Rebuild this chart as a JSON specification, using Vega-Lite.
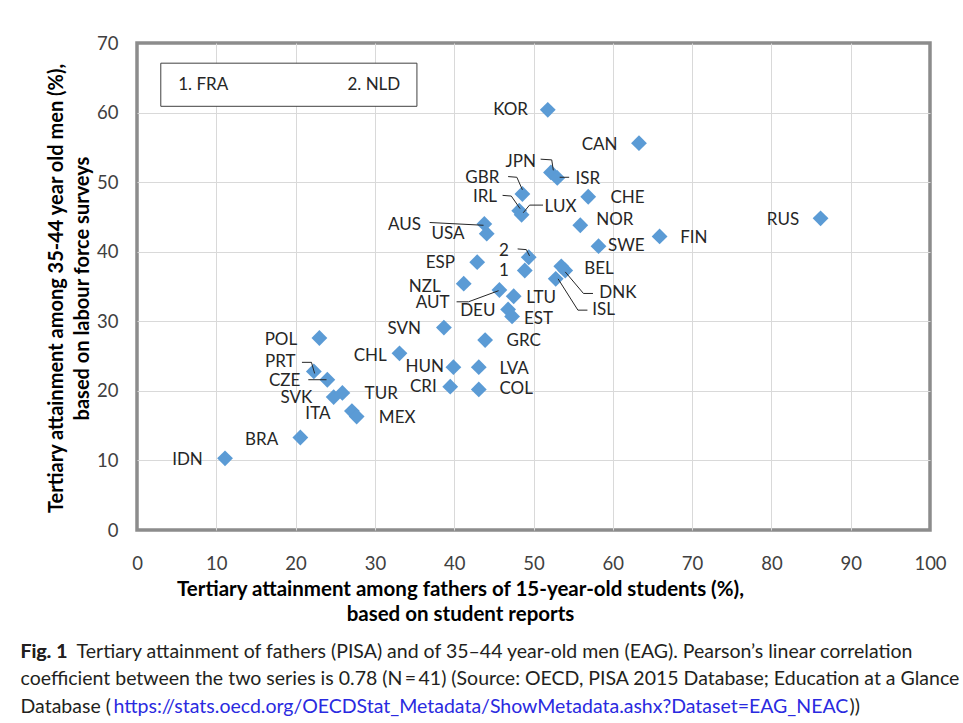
{
  "$schema": "https://vega.github.io/schema/vega-lite/v6.json",
  "width": 793,
  "height": 487,
  "autosize": "none",
  "padding": {"left": 137, "top": 43, "right": 33, "bottom": 193},
  "background": "white",
  "config": {
    "view": {"stroke": "#8c8c8c", "strokeWidth": 3.5},
    "font": "Lato"
  },
  "resolve": {"axis": {"x": "independent", "y": "independent"}},
  "datasets": {
    "pts": [
      {"c": "KOR", "x": 51.8, "y": 60.4, "lx": 49.3, "ly": 60.4, "side": "L"},
      {"c": "CAN", "x": 63.3, "y": 55.6, "lx": 60.6, "ly": 55.4, "side": "L"},
      {"c": "JPN", "x": 52.2, "y": 51.4, "lx": 50.3, "ly": 52.9, "side": "L"},
      {"c": "ISR", "x": 53.0, "y": 50.6, "lx": 55.3, "ly": 50.5, "side": "R"},
      {"c": "GBR", "x": 48.6, "y": 48.3, "lx": 45.7, "ly": 50.6, "side": "L"},
      {"c": "CHE", "x": 56.9, "y": 47.9, "lx": 59.7, "ly": 47.7, "side": "R"},
      {"c": "IRL", "x": 48.2, "y": 45.9, "lx": 45.4, "ly": 47.8, "side": "L"},
      {"c": "LUX", "x": 48.5, "y": 45.3, "lx": 51.4, "ly": 46.4, "side": "R"},
      {"c": "NOR", "x": 55.9, "y": 43.8, "lx": 57.9, "ly": 44.5, "side": "R"},
      {"c": "FIN", "x": 65.9, "y": 42.2, "lx": 68.5, "ly": 42.0, "side": "R"},
      {"c": "SWE", "x": 58.2, "y": 40.8, "lx": 59.4, "ly": 40.8, "side": "R"},
      {"c": "AUS", "x": 43.8, "y": 44.0, "lx": 35.8, "ly": 43.8, "side": "L"},
      {"c": "USA", "x": 44.1, "y": 42.6, "lx": 41.3, "ly": 42.5, "side": "L"},
      {"c": "2", "x": 49.4, "y": 39.2, "lx": 46.9, "ly": 40.1, "side": "L"},
      {"c": "1", "x": 48.9, "y": 37.3, "lx": 46.9, "ly": 37.2, "side": "L"},
      {"c": "ESP", "x": 42.9, "y": 38.5, "lx": 40.1, "ly": 38.4, "side": "L"},
      {"c": "BEL", "x": 53.5, "y": 37.9, "lx": 56.4, "ly": 37.5, "side": "R"},
      {"c": "DNK", "x": 54.0, "y": 37.3, "lx": 58.3, "ly": 34.0, "side": "R"},
      {"c": "ISL", "x": 52.8, "y": 36.1, "lx": 57.4, "ly": 31.6, "side": "R"},
      {"c": "NZL", "x": 41.2, "y": 35.4, "lx": 38.3, "ly": 35.0, "side": "L"},
      {"c": "AUT", "x": 45.7, "y": 34.5, "lx": 39.4, "ly": 32.6, "side": "L"},
      {"c": "LTU", "x": 47.5, "y": 33.6, "lx": 49.1, "ly": 33.4, "side": "R"},
      {"c": "DEU", "x": 46.8, "y": 31.7, "lx": 45.2, "ly": 31.5, "side": "L"},
      {"c": "EST", "x": 47.3, "y": 30.7, "lx": 48.8, "ly": 30.4, "side": "R"},
      {"c": "SVN", "x": 38.7, "y": 29.1, "lx": 35.8, "ly": 28.9, "side": "L"},
      {"c": "GRC", "x": 43.9, "y": 27.3, "lx": 46.6, "ly": 27.2, "side": "R"},
      {"c": "RUS", "x": 86.2, "y": 44.8, "lx": 83.5, "ly": 44.6, "side": "L"},
      {"c": "POL", "x": 23.0, "y": 27.6, "lx": 20.2, "ly": 27.3, "side": "L"},
      {"c": "CHL", "x": 33.1, "y": 25.4, "lx": 31.5, "ly": 25.0, "side": "L"},
      {"c": "HUN", "x": 39.9, "y": 23.4, "lx": 38.7, "ly": 23.5, "side": "L"},
      {"c": "LVA", "x": 43.1, "y": 23.4, "lx": 45.7, "ly": 23.1, "side": "R"},
      {"c": "CRI", "x": 39.5, "y": 20.6, "lx": 37.8, "ly": 20.6, "side": "L"},
      {"c": "COL", "x": 43.1, "y": 20.2, "lx": 45.7, "ly": 20.2, "side": "R"},
      {"c": "PRT", "x": 22.3, "y": 22.8, "lx": 20.0, "ly": 24.1, "side": "L"},
      {"c": "CZE", "x": 24.0, "y": 21.6, "lx": 20.6, "ly": 21.4, "side": "L"},
      {"c": "SVK", "x": 24.8, "y": 19.1, "lx": 22.1, "ly": 19.0, "side": "L"},
      {"c": "TUR", "x": 25.9, "y": 19.7, "lx": 28.7, "ly": 19.6, "side": "R"},
      {"c": "ITA", "x": 27.1, "y": 17.1, "lx": 24.4, "ly": 16.7, "side": "L"},
      {"c": "MEX", "x": 27.7, "y": 16.3, "lx": 30.5, "ly": 16.1, "side": "R"},
      {"c": "BRA", "x": 20.6, "y": 13.3, "lx": 17.8, "ly": 13.0, "side": "L"},
      {"c": "IDN", "x": 11.1, "y": 10.3, "lx": 8.3, "ly": 10.1, "side": "L"}
    ],
    "leaders": [
      {"c": "JPN", "o": 1, "x": 50.9, "y": 53.3},
      {"c": "JPN", "o": 2, "x": 52.3, "y": 53.2},
      {"c": "JPN", "o": 3, "x": 52.5, "y": 51.7},
      {"c": "ISR", "o": 1, "x": 54.5, "y": 50.7},
      {"c": "ISR", "o": 2, "x": 53.3, "y": 50.7},
      {"c": "GBR", "o": 1, "x": 46.8, "y": 50.8},
      {"c": "GBR", "o": 2, "x": 47.9, "y": 50.7},
      {"c": "GBR", "o": 3, "x": 48.6, "y": 48.9},
      {"c": "IRL", "o": 1, "x": 46.1, "y": 48.1},
      {"c": "IRL", "o": 2, "x": 47.2, "y": 48.0},
      {"c": "IRL", "o": 3, "x": 48.3, "y": 46.2},
      {"c": "LUX", "o": 1, "x": 51.2, "y": 46.7},
      {"c": "LUX", "o": 2, "x": 49.5, "y": 46.7},
      {"c": "LUX", "o": 3, "x": 48.7, "y": 45.6},
      {"c": "AUS", "o": 1, "x": 36.9, "y": 44.2},
      {"c": "AUS", "o": 2, "x": 43.7, "y": 43.8},
      {"c": "2", "o": 1, "x": 48.0, "y": 40.4},
      {"c": "2", "o": 2, "x": 49.1, "y": 40.3},
      {"c": "2", "o": 3, "x": 49.5, "y": 39.4},
      {"c": "DNK", "o": 1, "x": 57.5, "y": 34.0},
      {"c": "DNK", "o": 2, "x": 56.3, "y": 34.0},
      {"c": "DNK", "o": 3, "x": 54.0, "y": 37.1},
      {"c": "ISL", "o": 1, "x": 56.8, "y": 31.6},
      {"c": "ISL", "o": 2, "x": 55.6, "y": 31.6},
      {"c": "ISL", "o": 3, "x": 53.1, "y": 36.1},
      {"c": "AUT", "o": 1, "x": 40.3, "y": 32.8},
      {"c": "AUT", "o": 2, "x": 41.8, "y": 32.8},
      {"c": "AUT", "o": 3, "x": 45.6, "y": 34.4},
      {"c": "PRT", "o": 1, "x": 20.8, "y": 24.1},
      {"c": "PRT", "o": 2, "x": 22.0, "y": 24.1},
      {"c": "PRT", "o": 3, "x": 22.4, "y": 22.5},
      {"c": "CZE", "o": 1, "x": 21.6, "y": 21.6},
      {"c": "CZE", "o": 2, "x": 23.9, "y": 21.6}
    ],
    "legendbox": [
      {"x1": 3.0, "x2": 35.3, "y1": 60.9, "y2": 67.1}
    ],
    "legendtext": [
      {"t": "1. FRA", "x": 5.2, "y": 63.9, "a": "start"},
      {"t": "2. NLD", "x": 33.2, "y": 63.9, "a": "end"}
    ]
  },
  "layer": [
    {
      "data": {"name": "pts"},
      "mark": {"type": "point", "shape": "diamond", "filled": true, "size": 250, "opacity": 1, "color": "#5b9bd5", "strokeWidth": 0},
      "encoding": {
        "x": {
          "field": "x", "type": "quantitative",
          "scale": {"domain": [0, 100], "nice": false},
          "axis": {
            "orient": "bottom",
            "values": [0, 10, 20, 30, 40, 50, 60, 70, 80, 90, 100],
            "domain": false, "ticks": false, "tickSize": 0, "labelFlush": false,
            "grid": true, "gridColor": "#d9d9d9", "gridWidth": 1,
            "gridOpacity": {"condition": {"test": "datum.value === 0 || datum.value === 100", "value": 0}, "value": 1},
            "labelFont": "Lato", "labelFontSize": 18.5, "labelColor": "#404040", "labelPadding": 24,
            "title": ["Tertiary attainment among fathers of 15-year-old students (%),", "based on student reports"],
            "titleFont": "Lato", "titleFontSize": 20.5, "titleFontWeight": "bold", "titleColor": "#000000",
            "titleLineHeight": 25, "titlePadding": 7, "titleX": 323
          }
        },
        "y": {
          "field": "y", "type": "quantitative",
          "scale": {"domain": [0, 70], "nice": false},
          "axis": {
            "orient": "left",
            "values": [0, 10, 20, 30, 40, 50, 60, 70],
            "domain": false, "ticks": false, "tickSize": 0, "labelFlush": false,
            "grid": true, "gridColor": "#d9d9d9", "gridWidth": 1,
            "gridOpacity": {"condition": {"test": "datum.value === 0 || datum.value === 70", "value": 0}, "value": 1},
            "labelFont": "Lato", "labelFontSize": 18.5, "labelColor": "#404040", "labelPadding": 19,
            "title": ["Tertiary attainment  among 35-44 year old men (%),", "based on labour force surveys"],
            "titleFont": "Lato", "titleFontSize": 20, "titleFontWeight": "bold", "titleColor": "#000000",
            "titleLineHeight": 26, "titlePadding": 4, "titleY": 245
          }
        }
      }
    },
    {
      "data": {"name": "leaders"},
      "mark": {"type": "line", "color": "#262626", "strokeWidth": 1},
      "encoding": {
        "x": {
          "field": "x", "type": "quantitative", "scale": {"domain": [0, 100], "nice": false},
          "axis": {
            "orient": "top", "labels": false, "ticks": false, "domain": false, "grid": false,
            "title": "Fig. 1", "titleFont": "Lato", "titleFontSize": 19.5, "titleFontWeight": "bold", "titleColor": "#231f20",
            "titleAngle": 0, "titleAlign": "left", "titleBaseline": "alphabetic", "titleX": -117, "titleY": 614
          }
        },
        "y": {"field": "y", "type": "quantitative", "scale": {"domain": [0, 70], "nice": false}, "axis": null},
        "detail": {"field": "c"},
        "order": {"field": "o"}
      }
    },
    {
      "data": {"name": "pts"},
      "transform": [{"filter": "datum.side === 'L'"}],
      "mark": {"type": "text", "align": "right", "baseline": "middle", "font": "Lato", "fontSize": 17, "color": "#262626"},
      "encoding": {
        "x": {
          "field": "lx", "type": "quantitative", "scale": {"domain": [0, 100], "nice": false},
          "axis": {
            "orient": "top", "labels": false, "ticks": false, "domain": false, "grid": false,
            "title": ["Fig. 1\u00a0\u00a0Tertiary attainment of fathers (PISA) and of 35–44 year-old men (EAG). Pearson’s linear correlation", "coefficient between the two series is 0.78 (N\u2009=\u200941) (Source: OECD, PISA 2015 Database; Education at a Glance", "Database ("],
            "titleFont": "Lato", "titleFontSize": 19.5, "titleFontWeight": "normal", "titleColor": "#231f20", "titleLineHeight": 27.5,
            "titleAngle": 0, "titleAlign": "left", "titleBaseline": "alphabetic", "titleX": -117, "titleY": 614
          }
        },
        "y": {"field": "ly", "type": "quantitative", "scale": {"domain": [0, 70], "nice": false}, "axis": null},
        "text": {"field": "c"}
      }
    },
    {
      "data": {"name": "pts"},
      "transform": [{"filter": "datum.side === 'R'"}],
      "mark": {"type": "text", "align": "left", "baseline": "middle", "font": "Lato", "fontSize": 17, "color": "#262626"},
      "encoding": {
        "x": {
          "field": "lx", "type": "quantitative", "scale": {"domain": [0, 100], "nice": false},
          "axis": {
            "orient": "top", "labels": false, "ticks": false, "domain": false, "grid": false,
            "title": "https://stats.oecd.org/OECDStat_Metadata/ShowMetadata.ashx?Dataset=EAG_NEAC",
            "titleFont": "Lato", "titleFontSize": 19.5, "titleFontWeight": "normal", "titleColor": "#2a2ae0",
            "titleAngle": 0, "titleAlign": "left", "titleBaseline": "alphabetic", "titleX": -24, "titleY": 669
          }
        },
        "y": {"field": "ly", "type": "quantitative", "scale": {"domain": [0, 70], "nice": false}, "axis": null},
        "text": {"field": "c"}
      }
    },
    {
      "data": {"name": "legendbox"},
      "mark": {"type": "rect", "fill": "white", "stroke": "#404040", "strokeWidth": 1},
      "encoding": {
        "x": {
          "field": "x1", "type": "quantitative", "scale": {"domain": [0, 100], "nice": false},
          "axis": {
            "orient": "top", "labels": false, "ticks": false, "domain": false, "grid": false,
            "title": "))",
            "titleFont": "Lato", "titleFontSize": 19.5, "titleFontWeight": "normal", "titleColor": "#231f20",
            "titleAngle": 0, "titleAlign": "left", "titleBaseline": "alphabetic", "titleX": 712, "titleY": 669
          }
        },
        "x2": {"field": "x2"},
        "y": {"field": "y1", "type": "quantitative", "scale": {"domain": [0, 70], "nice": false}, "axis": null},
        "y2": {"field": "y2"}
      }
    },
    {
      "data": {"name": "legendtext"},
      "transform": [{"filter": "datum.a === 'start'"}],
      "mark": {"type": "text", "align": "left", "baseline": "middle", "font": "Lato", "fontSize": 17, "color": "#262626"},
      "encoding": {
        "x": {"field": "x", "type": "quantitative", "scale": {"domain": [0, 100], "nice": false}, "axis": null},
        "y": {"field": "y", "type": "quantitative", "scale": {"domain": [0, 70], "nice": false}, "axis": null},
        "text": {"field": "t"}
      }
    },
    {
      "data": {"name": "legendtext"},
      "transform": [{"filter": "datum.a === 'end'"}],
      "mark": {"type": "text", "align": "right", "baseline": "middle", "font": "Lato", "fontSize": 17, "color": "#262626"},
      "encoding": {
        "x": {"field": "x", "type": "quantitative", "scale": {"domain": [0, 100], "nice": false}, "axis": null},
        "y": {"field": "y", "type": "quantitative", "scale": {"domain": [0, 70], "nice": false}, "axis": null},
        "text": {"field": "t"}
      }
    }
  ]
}
